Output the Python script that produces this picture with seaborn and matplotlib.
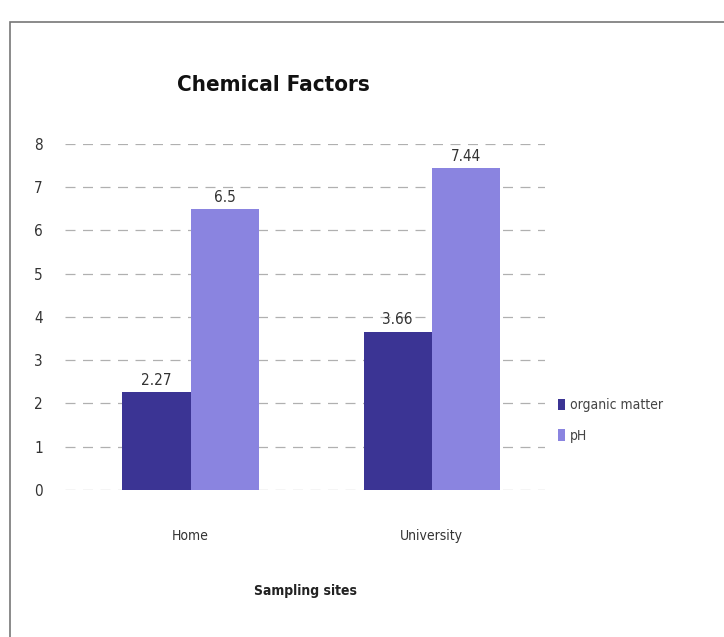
import pandas as pd
import matplotlib.pyplot as plt
import seaborn as sns
from matplotlib.patches import Rectangle

sites = ["Home", "University"]
organic_matter = [2.27, 3.66]
ph = [6.5, 7.44]
series_names = ["organic matter", "pH"]
y_ticks = [0, 1, 2, 3, 4, 5, 6, 7, 8]

df = pd.DataFrame({
    "site": sites * 2,
    "factor": [series_names[0]] * 2 + [series_names[1]] * 2,
    "value": organic_matter + ph,
})

sns.set_style("white")
plt.rcParams["font.family"] = ["DejaVu Sans"]
plt.rcParams["font.stretch"] = "condensed"

fig = plt.figure(figsize=(7.24, 6.37), dpi=100)
ax = fig.add_axes([0.09, 0.231, 0.663, 0.543])

palette = {"organic matter": "#3b3494", "pH": "#8a84e0"}
sns.barplot(data=df, x="site", y="value", hue="factor", palette=palette,
            width=0.565, saturation=1, ax=ax, legend=True, linewidth=0)

for c in ax.containers:
    ax.bar_label(c, labels=[f"{v:g}" for v in c.datavalues], padding=3,
                 fontsize=11, color="#333333")

ax.set_ylim(0, 8)
ax.set_xlim(-0.52, 1.47)
ax.set_yticks(y_ticks)
ax.yaxis.grid(True, color="#b0b0b0", linestyle=(0, (8, 6)), linewidth=0.9)
ax.set_axisbelow(True)
for s in ax.spines.values():
    s.set_visible(False)
ax.tick_params(axis="y", labelsize=11, colors="#333333", pad=16, length=0)
ax.tick_params(axis="x", labelsize=10, colors="#333333", pad=28, length=0)
ax.set_ylabel("")
ax.set_xlabel("Sampling sites", fontsize=10, fontweight="bold", labelpad=30,
              color="#222222")

fig.text(0.377, 0.866, "Chemical Factors", fontsize=16, fontweight="bold",
         color="#111111", ha="center", va="center")

leg = ax.legend(loc="center left", bbox_to_anchor=(1.0, 0.2), frameon=False,
                fontsize=10, handlelength=0.5, handleheight=0.9,
                labelspacing=1.2, handletextpad=0.4)
for t in leg.get_texts():
    t.set_color("#444444")

fig.patches.append(Rectangle((0.014, -0.1), 1.2, 1.065, transform=fig.transFigure,
                             fill=False, edgecolor="#777777", linewidth=1.2))

fig.savefig("out.png", dpi=100)
